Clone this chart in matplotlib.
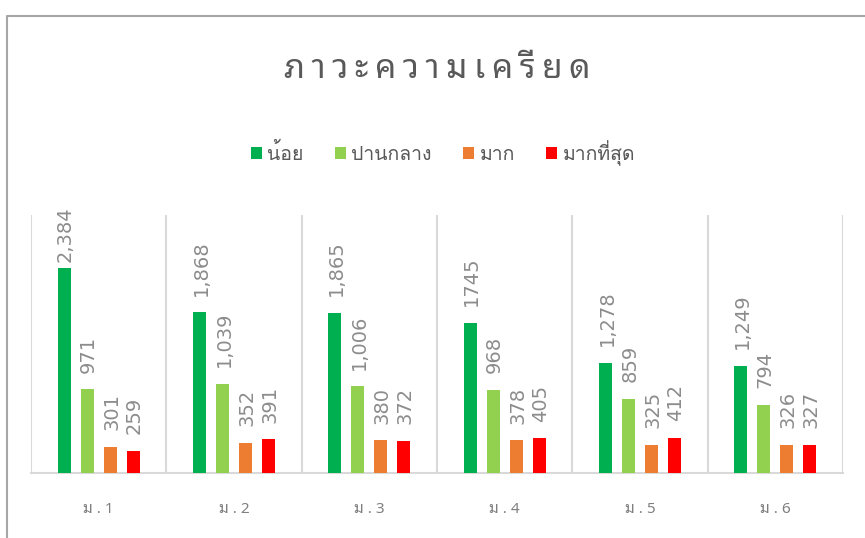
import numpy as np
import matplotlib
matplotlib.use("Agg")
import matplotlib.pyplot as plt
from matplotlib.lines import Line2D

# data
groups = ["ม . 1", "ม . 2", "ม . 3", "ม . 4", "ม . 5", "ม . 6"]
series = ["น้อย", "ปานกลาง", "มาก", "มากที่สุด"]
low = [2384, 1868, 1865, 1745, 1278, 1249]
medium = [971, 1039, 1006, 968, 859, 794]
high = [301, 352, 380, 378, 325, 326]
highest = [259, 391, 372, 405, 412, 327]
labels = [
    ["2,384", "1,868", "1,865", "1745", "1,278", "1,249"],
    ["971", "1,039", "1,006", "968", "859", "794"],
    ["301", "352", "380", "378", "325", "326"],
    ["259", "391", "372", "405", "412", "327"],
]
title = "ภาวะความเครียด"

colors = ["#00B050", "#92D050", "#ED7D31", "#FF0000"]
thai = ["Noto Sans Thai Looped", "DejaVu Sans"]
# Loma puts tone marks high by default, so ที่ stacks right without shaping
thai_legend = ["Loma", "Noto Sans Thai Looped", "DejaVu Sans"]


def spaced(s, gap="\u2009"):
    # keep Thai combining marks attached to their base letter
    marks = set(range(0x0E31, 0x0E32)) | set(range(0x0E34, 0x0E3B)) | set(range(0x0E47, 0x0E4F))
    clusters = []
    for ch in s:
        if clusters and ord(ch) in marks:
            clusters[-1] += ch
        else:
            clusters.append(ch)
    return gap.join(clusters)


W, H = 865, 538
fig = plt.figure(figsize=(W / 100, H / 100), dpi=100)
fig.patch.set_facecolor("white")

# chart border (cropped at right and bottom)
fig.add_artist(Line2D([7 / W, 7 / W, 1], [0, 1 - 16 / H, 1 - 16 / H],
                      transform=fig.transFigure, color="#A6A6A6", lw=1.5))

ax = fig.add_axes([31 / W, 1 - 473 / H, (843 - 31) / W, (473 - 215) / H])

x = np.arange(len(groups))
width = 0.096
offsets = [-0.255, -0.085, 0.085, 0.255]
values = [low, medium, high, highest]
handles = []
for vals, off, c, name, labs in zip(values, offsets, colors, series, labels):
    b = ax.bar(x + off, vals, width, color=c, label=name, zorder=3)
    handles.append(b)
    for xi, v, t in zip(x + off, vals, labs):
        # excel pushes a label down when it would run past the plot top
        dy = 12 if v < 2200 else 4
        ax.annotate(t, (xi, v), xytext=(1, dy), textcoords="offset points",
                    rotation=90, ha="center", va="bottom", fontsize=14,
                    color="#8C8C8C", family="DejaVu Sans")

ax.set_xlim(-0.5, len(groups) - 0.5)
ax.set_ylim(0, 3000)
ax.set_yticks([])
ax.set_xticks(x)
ax.set_xticklabels(groups, family=thai, fontsize=11, color="#7F7F7F")
ax.tick_params(axis="x", length=0, pad=21)
for xb in np.arange(-0.5, len(groups), 1.0):
    ax.axvline(xb, color="#D9D9D9", lw=1.5, zorder=1)
for s in ["top", "left", "right"]:
    ax.spines[s].set_visible(False)
ax.spines["bottom"].set_color("#D9D9D9")
ax.spines["bottom"].set_linewidth(1.5)

fig.text(437 / W, 1 - 70 / H, spaced(title), ha="center", va="center",
         fontsize=24, fontweight="bold", color="#595959", family=thai)

fig.legend(handles=handles, labels=series, loc="center", ncol=4,
           bbox_to_anchor=(443 / W, 1 - 153 / H), frameon=False,
           prop={"family": thai_legend, "size": 14}, labelcolor="#595959",
           handlelength=0.55, handleheight=0.55, handletextpad=0.3,
           columnspacing=1.6)

fig.savefig("out.png", dpi=100)
